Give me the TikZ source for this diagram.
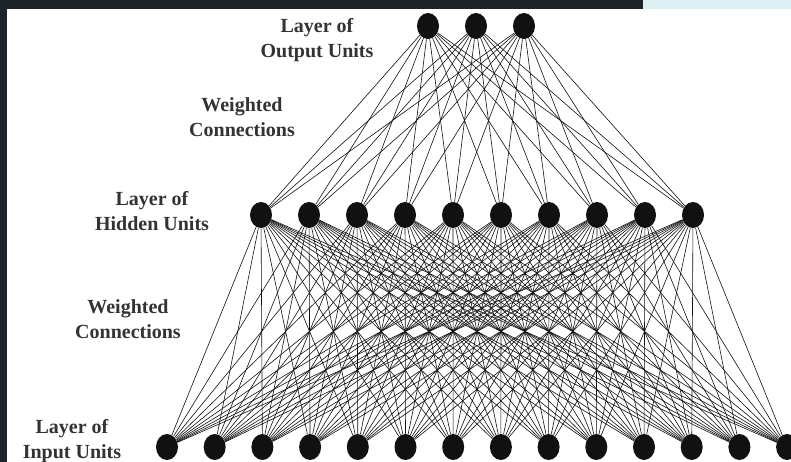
\documentclass[tikz,border=0pt]{standalone}
\usepackage{fontspec}
\setmainfont{Liberation Serif}
\usepackage{tikz}
\usetikzlibrary{shapes.geometric}
\definecolor{netdark}{HTML}{1E2328}
\definecolor{netsky}{HTML}{DCEFF3}
\definecolor{netink}{HTML}{111111}

\begin{document}
\begin{tikzpicture}[x=1pt, y=-1pt,
      unit/.style={ellipse, fill=netink, inner sep=0pt,
                   minimum width=22pt, minimum height=26pt},
      tag/.style={align=center, font=\fontsize{20}{25}\selectfont\bfseries, text=black!80},
      link/.style={line width=0.6pt, netink}]
    % frame: dark border, blue strip, white sheet
    \fill[netdark] (0,0) rectangle (791,462);
    \fill[netsky] (643,0) rectangle (791,9);
    \fill[white] (7,9) rectangle (791,462);
    \useasboundingbox (0,0) rectangle (791,462);
    % layers
    \foreach \i in {1,...,3}
      \node[unit] (out\i) at ({428+48*(\i-1)},26) {};
    \foreach \i in {1,...,10}
      \node[unit] (hid\i) at ({261+48*(\i-1)},215) {};
    \foreach \i in {1,...,14}
      \node[unit] (in\i) at ({167+47.7*(\i-1)},447) {};
    % weights
    \foreach \o in {1,...,3}
      \foreach \h in {1,...,10}
        \draw[link] (out\o) -- (hid\h);
    \foreach \h in {1,...,10}
      \foreach \n in {1,...,14}
        \draw[link] (hid\h) -- (in\n);
    % captions
    \node[tag] (outtag) at (317,40)  {Layer of\\Output Units};
    \node[tag] (wtop)   at (242,117) {Weighted\\Connections};
    \node[tag] (hidtag) at (152,211) {Layer of\\Hidden Units};
    \node[tag] (wlow)   at (128,319) {Weighted\\Connections};
    \node[tag] (intag)  at (72,441)  {Layer of\\Input Units};
  \end{tikzpicture}
\end{document}
